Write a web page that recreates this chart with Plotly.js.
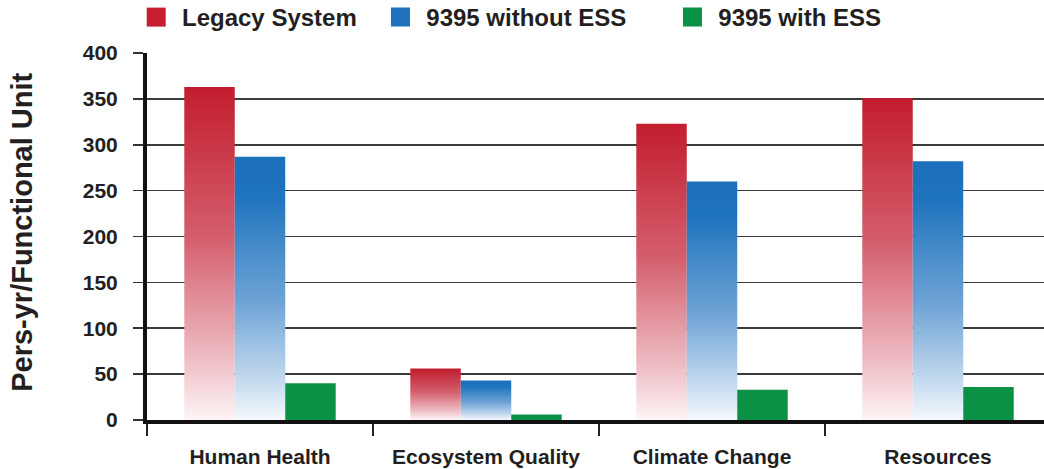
<!DOCTYPE html>
<html>
<head>
<meta charset="utf-8">
<script src="https://cdn.plot.ly/plotly-3.0.1.min.js"></script>
<style>
  html, body { margin: 0; padding: 0; background: #fff; }
  #chart { width: 1044px; height: 469px; }
</style>
</head>
<body>
<div id="chart"></div>
<script>
// ---- data ----
var categories = ["Human Health", "Ecosystem Quality", "Climate Change", "Resources"];
var seriesNames = ["Legacy System", "9395 without ESS", "9395 with ESS"];
var legacySystem = [363, 56, 323, 351];
var without9395ESS = [287, 43, 260, 282];
var with9395ESS = [40, 6, 33, 36];
var yTickValues = [0, 50, 100, 150, 200, 250, 300, 350, 400];
var yTitle = "Pers-yr/Functional Unit";

var colRed = "#c51f30", colBlue = "#1f72bd", colGreen = "#0b9146";
var FONT = "Liberation Sans, Arial, Helvetica, sans-serif";
var TXT = "#231f20";

var traces = [
  {type: "bar", name: seriesNames[0], legend: "legend", x: categories, y: legacySystem, marker: {color: colRed, line: {width: 0}}},
  {type: "bar", name: seriesNames[1], legend: "legend2", x: categories, y: without9395ESS, marker: {color: colBlue, line: {width: 0}}},
  {type: "bar", name: seriesNames[2], legend: "legend3", x: categories, y: with9395ESS, marker: {color: colGreen, line: {width: 0}}}
];

function legendAt(px) {
  return {
    orientation: "h", xref: "container", yref: "container",
    x: px / 1044, xanchor: "left", y: 1 - 17.5 / 469, yanchor: "middle",
    font: {family: FONT, size: 24, color: TXT, weight: "bold"},
    bgcolor: "rgba(0,0,0,0)", borderwidth: 0, itemclick: false
  };
}

var layout = {
  width: 1044, height: 469,
  margin: {l: 147, r: 0, t: 53, b: 49, pad: 0},
  paper_bgcolor: "#fff", plot_bgcolor: "#fff",
  barmode: "group", bargap: 0.33, bargroupgap: 0,
  showlegend: true,
  legend: legendAt(142),
  legend2: legendAt(386.3),
  legend3: legendAt(678.3),
  xaxis: {
    type: "category", range: [-0.5, 3.469], fixedrange: true,
    showline: true, linecolor: "#111", linewidth: 4,
    ticks: "outside", tickson: "boundaries", ticklen: 12, tickwidth: 2, tickcolor: "#222",
    showgrid: false, zeroline: false,
    tickfont: {family: FONT, size: 21, color: TXT, weight: "bold"},
    ticklabelstandoff: 15,
    automargin: false
  },
  yaxis: {
    range: [0, 400], fixedrange: true,
    tickvals: yTickValues, ticktext: yTickValues.map(String),
    showline: true, linecolor: "#111", linewidth: 4,
    ticks: "outside", ticklen: 10, tickwidth: 1.6, tickcolor: "#333",
    showgrid: true, gridcolor: "#3b3b3b", gridwidth: 1.6, zeroline: false,
    tickfont: {family: FONT, size: 21, color: TXT, weight: "bold"},
    ticklabelstandoff: 11,
    automargin: false
  },
  annotations: [{
    text: yTitle, textangle: -90, showarrow: false,
    xref: "paper", yref: "paper", x: (22 - 147) / 897, y: 0.51,
    xanchor: "center", yanchor: "middle",
    font: {family: FONT, size: 29, color: TXT, weight: "bold"}
  }]
};

Plotly.newPlot("chart", traces, layout, {staticPlot: true, displayModeBar: false}).then(function (gd) {
  var svgNS = "http://www.w3.org/2000/svg";
  var svg = gd.querySelector(".main-svg");
  var defs = svg.querySelector("defs");
  if (!defs) { defs = document.createElementNS(svgNS, "defs"); svg.insertBefore(defs, svg.firstChild); }
  function grad(id, stops) {
    var g = document.createElementNS(svgNS, "linearGradient");
    g.setAttribute("id", id);
    g.setAttribute("x1", "0"); g.setAttribute("y1", "0");
    g.setAttribute("x2", "0"); g.setAttribute("y2", "1");
    stops.forEach(function (s) {
      var st = document.createElementNS(svgNS, "stop");
      st.setAttribute("offset", s[0]);
      st.setAttribute("stop-color", s[1]);
      g.appendChild(st);
    });
    defs.appendChild(g);
  }
  grad("gradRed", [["0", "#c21d2e"], ["0.45", "#d45e6c"], ["0.8", "#edb8c0"], ["1", "#fdf4f5"]]);
  grad("gradBlue", [["0", "#1c6fbb"], ["0.15", "#1f74be"], ["0.55", "#6ea3d5"], ["0.85", "#c4daef"], ["1", "#f5f9fd"]]);
  var barTraces = gd.querySelectorAll(".barlayer .trace");
  var ids = ["gradRed", "gradBlue"];
  for (var i = 0; i < 2 && i < barTraces.length; i++) {
    barTraces[i].querySelectorAll(".point path").forEach(function (p) {
      p.style.fill = "url(#" + ids[i] + ")";
    });
  }
  gd.querySelectorAll(".legendpoints path").forEach(function (p) {
    p.setAttribute("d", "M-15.3,9.5H3.7V-9.5H-15.3Z");
  });
});
</script>
</body>
</html>
